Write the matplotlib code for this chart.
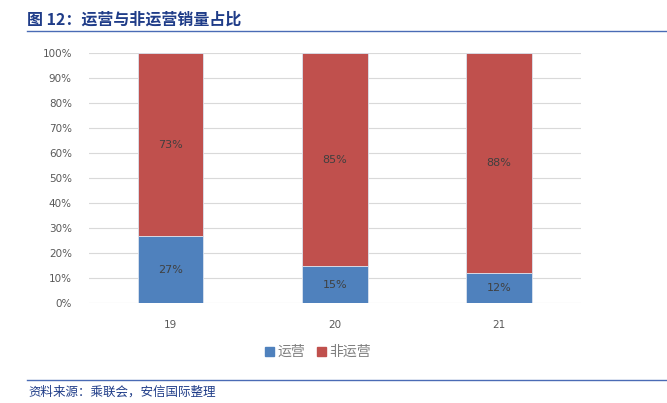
import numpy as np
import matplotlib.pyplot as plt
from matplotlib.lines import Line2D
from matplotlib.patches import Patch

plt.rcParams['font.family'] = ['DejaVu Sans', 'Noto Sans CJK SC']

# ============================================================
# Data
# ============================================================
years = ['19', '20', '21']
yunying = [27, 15, 12]        # 运营 share (%)
fei_yunying = [73, 85, 88]    # 非运营 share (%)

title = '图 12：运营与非运营销量占比'
source = '资料来源：乘联会，安信国际整理'

blue = '#4F81BD'
red = '#C0504D'
navy = '#1F3C88'
rule = '#4A6BB5'
grey = '#595959'

# ============================================================
# Figure
# ============================================================
fig = plt.figure(figsize=(6.67, 4.03), dpi=100)
ax = fig.add_axes([88.5 / 667, 1 - 303.3 / 403, (581 - 88.5) / 667, 250 / 403])

x = np.arange(len(years))
ax.bar(x, yunying, width=0.4, color=blue, edgecolor='#dbe3ef', linewidth=0.6, zorder=3)
ax.bar(x, fei_yunying, width=0.4, bottom=yunying, color=red,
       edgecolor='#dbe3ef', linewidth=0.6, zorder=3)

for xi, a, b in zip(x, yunying, fei_yunying):
    ax.text(xi, a / 2, f'{a}%', ha='center', va='center', fontsize=8, color='#404040', zorder=4)
    ax.text(xi, a + b / 2, f'{b}%', ha='center', va='center', fontsize=8, color='#404040', zorder=4)

ax.set_xlim(-0.5, 2.5)
ax.set_ylim(0, 100)
ax.set_yticks(np.arange(0, 101, 10))
ax.set_yticklabels([f'{v}%' for v in range(0, 101, 10)])
ax.set_xticks(x)
ax.set_xticklabels(years)
ax.tick_params(axis='both', length=0, labelsize=7.5, colors=grey)
ax.tick_params(axis='y', pad=12)
ax.tick_params(axis='x', pad=12)
ax.grid(axis='y', color='#d9d9d9', lw=0.8, zorder=0)
for s in ax.spines.values():
    s.set_visible(False)

# Legend
handles = [Patch(color=blue, label='运营'), Patch(color=red, label='非运营')]
leg = fig.legend(handles=handles, loc='center', bbox_to_anchor=(318 / 667, 1 - 352 / 403),
                 ncol=2, frameon=False, handlelength=0.6, handleheight=0.6,
                 handletextpad=0.25, columnspacing=0.9,
                 prop={'family': 'Noto Sans CJK SC', 'size': 10})
for t in leg.get_texts():
    t.set_color('#7f7f7f')

# Title and rules
fig.text(27 / 667, 1 - 20 / 403, title, ha='left', va='center', fontsize=11.5,
         fontweight='bold', color=navy, family=['Noto Sans CJK SC', 'DejaVu Sans'])
fig.add_artist(Line2D([27 / 667, 1], [1 - 31 / 403] * 2, color=rule, lw=1.0))
fig.add_artist(Line2D([27 / 667, 1], [1 - 380 / 403] * 2, color=rule, lw=1.0))
fig.text(28 / 667, 1 - 392 / 403, source, ha='left', va='center', fontsize=9,
         style='italic', color=navy, family=['Noto Sans CJK SC', 'DejaVu Sans'])

fig.savefig('out.png', dpi=100)
